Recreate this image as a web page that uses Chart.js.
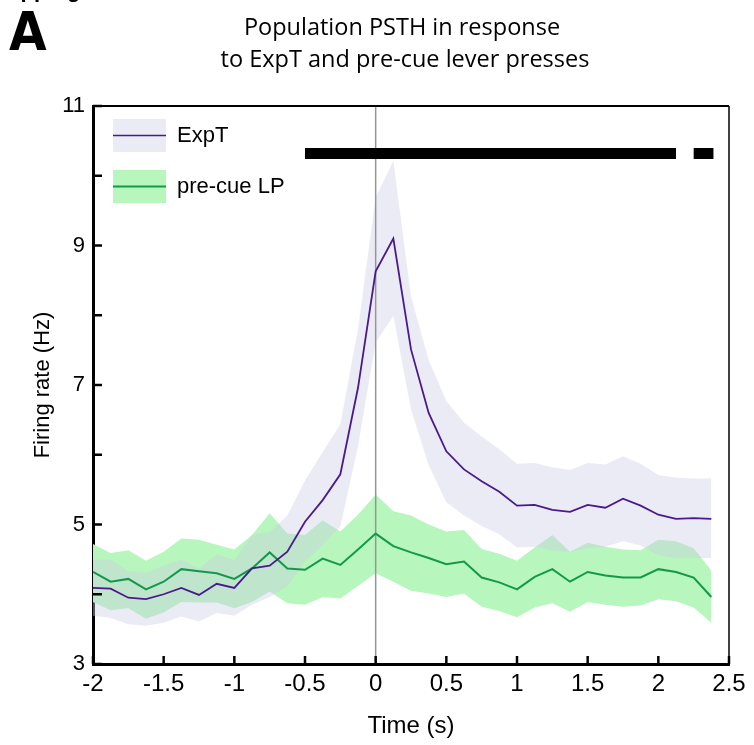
<!DOCTYPE html>
<html>
<head>
<meta charset="utf-8">
<script src="https://cdn.jsdelivr.net/npm/chart.js@4.4.1/dist/chart.umd.min.js"></script>
<style>
  html, body { margin: 0; padding: 0; background: #fff; }
  canvas { display: block; }
</style>
</head>
<body>
<canvas id="graph" width="754" height="745"></canvas>
<script>
// -------------------------
// DATA
// -------------------------
const timeBins = [-2, -1.875, -1.75, -1.625, -1.5, -1.375, -1.25, -1.125, -1, -0.875, -0.75, -0.625,
  -0.5, -0.375, -0.25, -0.125, 0, 0.125, 0.25, 0.375, 0.5, 0.625, 0.75, 0.875,
  1, 1.125, 1.25, 1.375, 1.5, 1.625, 1.75, 1.875, 2, 2.125, 2.25, 2.375];

const expTMean = [4.09, 4.08, 3.95, 3.93, 4.00, 4.09, 3.99, 4.15, 4.09, 4.37, 4.41, 4.61,
  5.04, 5.35, 5.72, 6.96, 8.63, 9.10, 7.51, 6.60, 6.05, 5.79, 5.62, 5.47,
  5.27, 5.28, 5.21, 5.18, 5.28, 5.24, 5.37, 5.27, 5.14, 5.08, 5.09, 5.08];
const expTUpper = [4.49, 4.50, 4.33, 4.31, 4.41, 4.50, 4.37, 4.57, 4.49, 4.85, 4.89, 5.13,
  5.63, 6.04, 6.44, 7.80, 9.69, 10.21, 8.27, 7.36, 6.77, 6.46, 6.26, 6.08,
  5.87, 5.88, 5.82, 5.78, 5.88, 5.86, 5.98, 5.87, 5.71, 5.67, 5.66, 5.66];
const expTLower = [3.69, 3.66, 3.57, 3.55, 3.59, 3.68, 3.61, 3.73, 3.69, 3.85, 3.96, 4.11,
  4.47, 4.71, 4.97, 6.12, 7.61, 7.99, 6.65, 5.85, 5.32, 5.13, 4.98, 4.86,
  4.67, 4.68, 4.63, 4.61, 4.66, 4.68, 4.76, 4.70, 4.56, 4.52, 4.52, 4.52];

const lpMean = [4.32, 4.18, 4.22, 4.07, 4.18, 4.36, 4.33, 4.30, 4.22, 4.37, 4.60, 4.37,
  4.35, 4.51, 4.42, 4.64, 4.87, 4.69, 4.60, 4.52, 4.43, 4.47, 4.24, 4.17,
  4.07, 4.25, 4.36, 4.18, 4.32, 4.27, 4.24, 4.24, 4.36, 4.32, 4.24, 3.96];
const lpUpper = [4.72, 4.59, 4.63, 4.48, 4.61, 4.80, 4.78, 4.71, 4.64, 4.85, 5.16, 4.87,
  4.85, 5.06, 4.90, 5.14, 5.43, 5.19, 5.13, 5.00, 4.90, 4.92, 4.65, 4.58,
  4.48, 4.67, 4.85, 4.61, 4.74, 4.68, 4.64, 4.63, 4.78, 4.76, 4.66, 4.34];
const lpLower = [3.89, 3.77, 3.80, 3.65, 3.74, 3.89, 3.88, 3.88, 3.80, 3.89, 4.04, 3.87,
  3.85, 3.96, 3.94, 4.12, 4.30, 4.18, 4.05, 4.01, 3.96, 4.01, 3.82, 3.76,
  3.67, 3.81, 3.87, 3.75, 3.89, 3.85, 3.82, 3.84, 3.93, 3.90, 3.81, 3.59];

// significance bar segments (start, end in s) and its height (Hz)
const sigSegments = [[-0.5, 2.125], [2.25, 2.39]];
const sigLevel = 10.32;

const xTicks = { min: -2, max: 2.5, step: 0.5 };
const yTicks = { min: 3, max: 11, step: 1 };

const legendItems = ["ExpT", "pre-cue LP"];

// -------------------------
// COLOURS
// -------------------------
const PURPLE = "#4a1a8c";
const PURPLE_BAND = "rgba(205,205,230,0.4)";
const PURPLE_PATCH = "rgb(235,235,245)";
const GREEN = "#12994a";
const GREEN_BAND = "rgb(183,246,188)";

function pts(ys) {
  return timeBins.map((t, i) => ({ x: t, y: ys[i] }));
}

function sigData() {
  const out = [];
  sigSegments.forEach((s, i) => {
    if (i > 0) out.push({ x: (sigSegments[i - 1][1] + s[0]) / 2, y: null });
    out.push({ x: s[0], y: sigLevel });
    out.push({ x: s[1], y: sigLevel });
  });
  return out;
}

const plain = { pointRadius: 0, pointHoverRadius: 0, tension: 0 };

// -------------------------
// DECORATION PLUGIN
// -------------------------
const decor = {
  id: "decor",
  afterDatasetsDraw(c) {
    const ctx = c.ctx;
    const a = c.chartArea;
    const xs = c.scales.x, ys = c.scales.y;
    ctx.save();

    // top + right frame
    ctx.strokeStyle = "#000";
    ctx.lineWidth = 2;
    ctx.beginPath();
    ctx.moveTo(a.left, a.top);
    ctx.lineTo(a.right, a.top);
    ctx.stroke();
    ctx.lineWidth = 1.5;
    ctx.beginPath();
    ctx.moveTo(a.right, a.top);
    ctx.lineTo(a.right, a.bottom);
    ctx.stroke();

    // inward ticks
    ctx.lineWidth = 2.5;
    ys.ticks.forEach(t => {
      const p = ys.getPixelForValue(t.value);
      ctx.beginPath();
      ctx.moveTo(a.left, p);
      ctx.lineTo(a.left + 9, p);
      ctx.stroke();
    });
    xs.ticks.forEach(t => {
      const p = xs.getPixelForValue(t.value);
      ctx.beginPath();
      ctx.moveTo(p, a.bottom);
      ctx.lineTo(p, a.bottom - 8);
      ctx.stroke();
    });

    // legend
    const fills = [PURPLE_PATCH, GREEN_BAND];
    const lines = [PURPLE, GREEN];
    ctx.font = "22px 'Liberation Sans', Arial, sans-serif";
    ctx.textBaseline = "middle";
    ctx.textAlign = "left";
    legendItems.forEach((name, i) => {
      const top = a.top + 13 + i * 51;
      ctx.fillStyle = fills[i];
      ctx.fillRect(a.left + 20, top, 53, 33);
      ctx.strokeStyle = lines[i];
      ctx.lineWidth = i === 0 ? 1.5 : 2;
      ctx.beginPath();
      ctx.moveTo(a.left + 20, top + 16.5);
      ctx.lineTo(a.left + 73, top + 16.5);
      ctx.stroke();
      ctx.fillStyle = "#000";
      ctx.fillText(name, a.left + 84, top + 17);
    });
    ctx.restore();
  },
  afterDraw(c) {
    const ctx = c.ctx;
    ctx.save();
    ctx.fillStyle = "#000";
    ctx.textAlign = "center";
    ctx.textBaseline = "alphabetic";
    ctx.font = "23.5px 'Open Sans', sans-serif";
    ctx.fillText("Population PSTH in response", 402, 35);
    ctx.fillText("to ExpT and pre-cue lever presses", 405, 67);

    ctx.textAlign = "left";
    ctx.font = "bold 54px 'DejaVu Sans Condensed', 'DejaVu Sans', sans-serif";
    ctx.fillText("A", 9, 50);
    ctx.font = "bold 22px 'Liberation Sans', Arial, sans-serif";
    ctx.fillText("Mapping", -10, -3);
    ctx.restore();
  }
};

// -------------------------
// INIT CHART
// -------------------------
function initChart() {
  const ctx = document.getElementById("graph").getContext("2d");

  new Chart(ctx, {
    type: "line",
    data: {
      datasets: [
        { data: pts(lpUpper), ...plain, borderWidth: 0, borderColor: "transparent",
          backgroundColor: GREEN_BAND, fill: "+1", order: 6 },
        { data: pts(lpLower), ...plain, borderWidth: 0, borderColor: "transparent",
          fill: false, order: 6 },
        { data: pts(expTUpper), ...plain, borderWidth: 0, borderColor: "transparent",
          backgroundColor: PURPLE_BAND, fill: "+1", order: 5 },
        { data: pts(expTLower), ...plain, borderWidth: 0, borderColor: "transparent",
          fill: false, order: 5 },
        { data: [{ x: 0, y: yTicks.min }, { x: 0, y: yTicks.max }], ...plain,
          borderColor: "rgb(150,150,150)", borderWidth: 1.5, fill: false, order: 4 },
        { data: pts(lpMean), ...plain, borderColor: GREEN, borderWidth: 2, fill: false, order: 2 },
        { data: pts(expTMean), ...plain, borderColor: PURPLE, borderWidth: 1.8, fill: false, order: 1 },
        { data: sigData(), ...plain, borderColor: "#000", borderWidth: 11,
          borderCapStyle: "butt", spanGaps: false, fill: false, order: 0 }
      ]
    },
    options: {
      responsive: false,
      animation: false,
      devicePixelRatio: 1,
      layout: { padding: { top: 106, right: 25, left: 0, bottom: 0 } },
      plugins: {
        legend: { display: false },
        tooltip: { enabled: false },
        filler: { drawTime: "beforeDatasetDraw" }
      },
      scales: {
        x: {
          type: "linear",
          min: xTicks.min,
          max: xTicks.max,
          grid: { display: false, drawTicks: false },
          border: { display: true, color: "#000", width: 3 },
          ticks: {
            stepSize: xTicks.step,
            color: "#000",
            padding: 6,
            maxRotation: 0,
            font: { family: "'Liberation Sans', Arial", size: 24 },
            callback: v => String(Math.round(v * 10) / 10)
          },
          title: {
            display: true,
            text: "Time (s)",
            color: "#000",
            padding: { top: 4 },
            font: { family: "'Liberation Sans', Arial", size: 24 }
          },
          afterFit: s => { s.height = 81; }
        },
        y: {
          min: yTicks.min,
          max: yTicks.max,
          grid: { display: false, drawTicks: false },
          border: { display: true, color: "#000", width: 3 },
          ticks: {
            stepSize: yTicks.step,
            color: "#000",
            padding: 8,
            font: { family: "'Liberation Sans', Arial", size: 22 },
            callback: v => (v % 2 === 1 ? String(v) : "")
          },
          title: {
            display: true,
            text: "Firing rate (Hz)",
            color: "#000",
            padding: { top: 30, bottom: 0 },
            font: { family: "'Liberation Sans', Arial", size: 22 }
          },
          afterFit: s => { s.width = 93; }
        }
      }
    },
    plugins: [decor]
  });
}

initChart();
</script>
</body>
</html>
